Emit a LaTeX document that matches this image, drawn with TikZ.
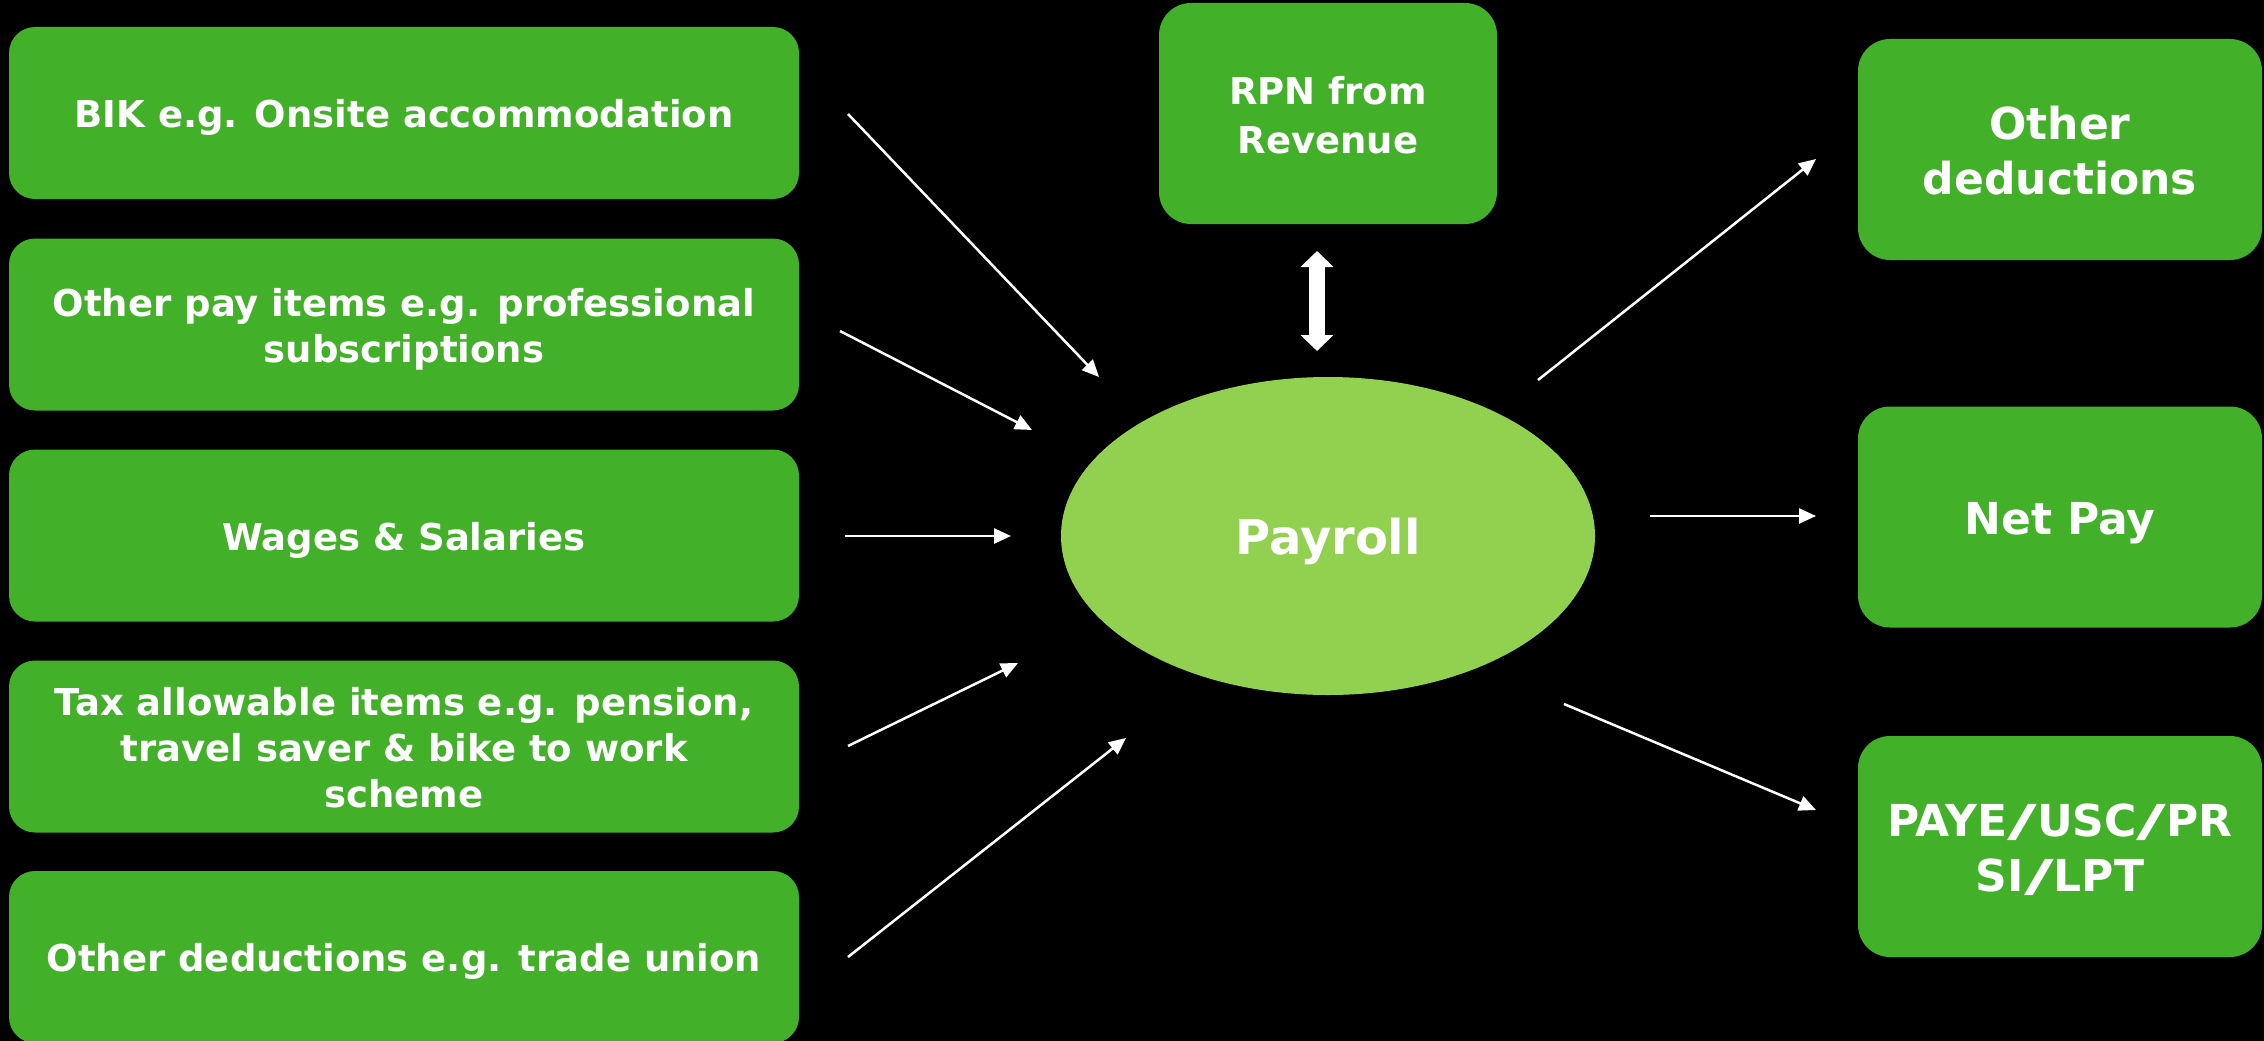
\documentclass[tikz,border=0pt]{standalone}
\usepackage{fontspec}
\usepackage{graphicx}
\setmainfont{DejaVu Sans}
\usetikzlibrary{arrows.meta,shapes.geometric}
\definecolor{boxgreen}{HTML}{43B02A}
\definecolor{hubgreen}{HTML}{92D050}

% centred lines with even spacing, set a little below the middle of the box
\newcommand\boxtext[1]{\raisebox{-0.15em}[\height][\depth]{\begin{tabular}{@{}c@{}}#1\end{tabular}}}
% wide slash
\newcommand\sep{\scalebox{1.85}[1]{/}}

\begin{document}
\begin{tikzpicture}[x=1pt,y=-1pt,
  item/.style={fill=boxgreen, rounded corners=26pt, text=white,
    font=\bfseries\fontsize{37}{46}\selectfont,
    minimum width=790pt, minimum height=172pt, inner sep=0pt},
  result/.style={fill=boxgreen, rounded corners=32pt, text=white,
    font=\bfseries\fontsize{44}{55}\selectfont,
    minimum width=404pt, minimum height=221pt, inner sep=0pt},
  flow/.style={draw=white, line width=2.5pt, -{Triangle[length=17pt,width=15pt]}},
  twoway/.style={draw=white, line width=16pt,
    {Triangle[length=16pt,width=32pt]}-{Triangle[length=16pt,width=32pt]}},
]
% background
\fill[black] (0,0) rectangle (2264,1041);
\useasboundingbox (0,0) rectangle (2264,1041);

% inputs
\node[item] (bik)  at (404,113)   {\boxtext{BIK e.g. Onsite accommodation}};
\node[item] (pay)  at (404,324.5) {\boxtext{Other pay items e.g. professional\\subscriptions}};
\node[item] (wage) at (404,535.5) {\boxtext{Wages \& Salaries}};
\node[item] (tax)  at (404,746.5) {\boxtext{Tax allowable items e.g. pension,\\travel saver \& bike to work\\scheme}};
\node[item] (dedin) at (404,957) {\boxtext{Other deductions e.g. trade union}};

% revenue notice
\node[fill=boxgreen, rounded corners=32pt, text=white,
  font=\bfseries\fontsize{37}{49}\selectfont,
  minimum width=338pt, minimum height=221pt, inner sep=0pt]
  (rpn) at (1328,113.5) {\boxtext{RPN from\\Revenue}};

% hub
\node[ellipse, fill=hubgreen, text=white, minimum width=534pt, minimum height=318pt,
  inner sep=0pt, font=\bfseries\fontsize{48}{58}\selectfont] (hub) at (1328,536) {\boxtext{Payroll}};

% outputs
\node[result] (dedout) at (2060,149.5) {\boxtext{Other\\deductions}};
\node[result] (net)    at (2060,517)   {\boxtext{Net Pay}};
\node[result] (paye)   at (2060,846.5) {\boxtext{PAYE\sep USC\sep PR\\SI\sep LPT}};

% arrow ends
\coordinate (s1) at (848,114);   \coordinate (e1) at (1099,377);
\coordinate (s2) at (840,331);   \coordinate (e2) at (1032,430);
\coordinate (s3) at (845,536);   \coordinate (e3) at (1011,536);
\coordinate (s4) at (848,746);   \coordinate (e4) at (1018,663);
\coordinate (s5) at (848,957);   \coordinate (e5) at (1126,738);
\coordinate (s6) at (1538,380);  \coordinate (e6) at (1816,159);
\coordinate (s7) at (1650,516);  \coordinate (e7) at (1816,516);
\coordinate (s8) at (1564,704);  \coordinate (e8) at (1816,810);
\coordinate (rpnlink) at (1317,251);
\coordinate (hublink) at (1317,351);

\draw[flow] (s1) -- (e1);
\draw[flow] (s2) -- (e2);
\draw[flow] (s3) -- (e3);
\draw[flow] (s4) -- (e4);
\draw[flow] (s5) -- (e5);
\draw[flow] (s6) -- (e6);
\draw[flow] (s7) -- (e7);
\draw[flow] (s8) -- (e8);
\draw[twoway] (rpnlink) -- (hublink);
\end{tikzpicture}
\end{document}
